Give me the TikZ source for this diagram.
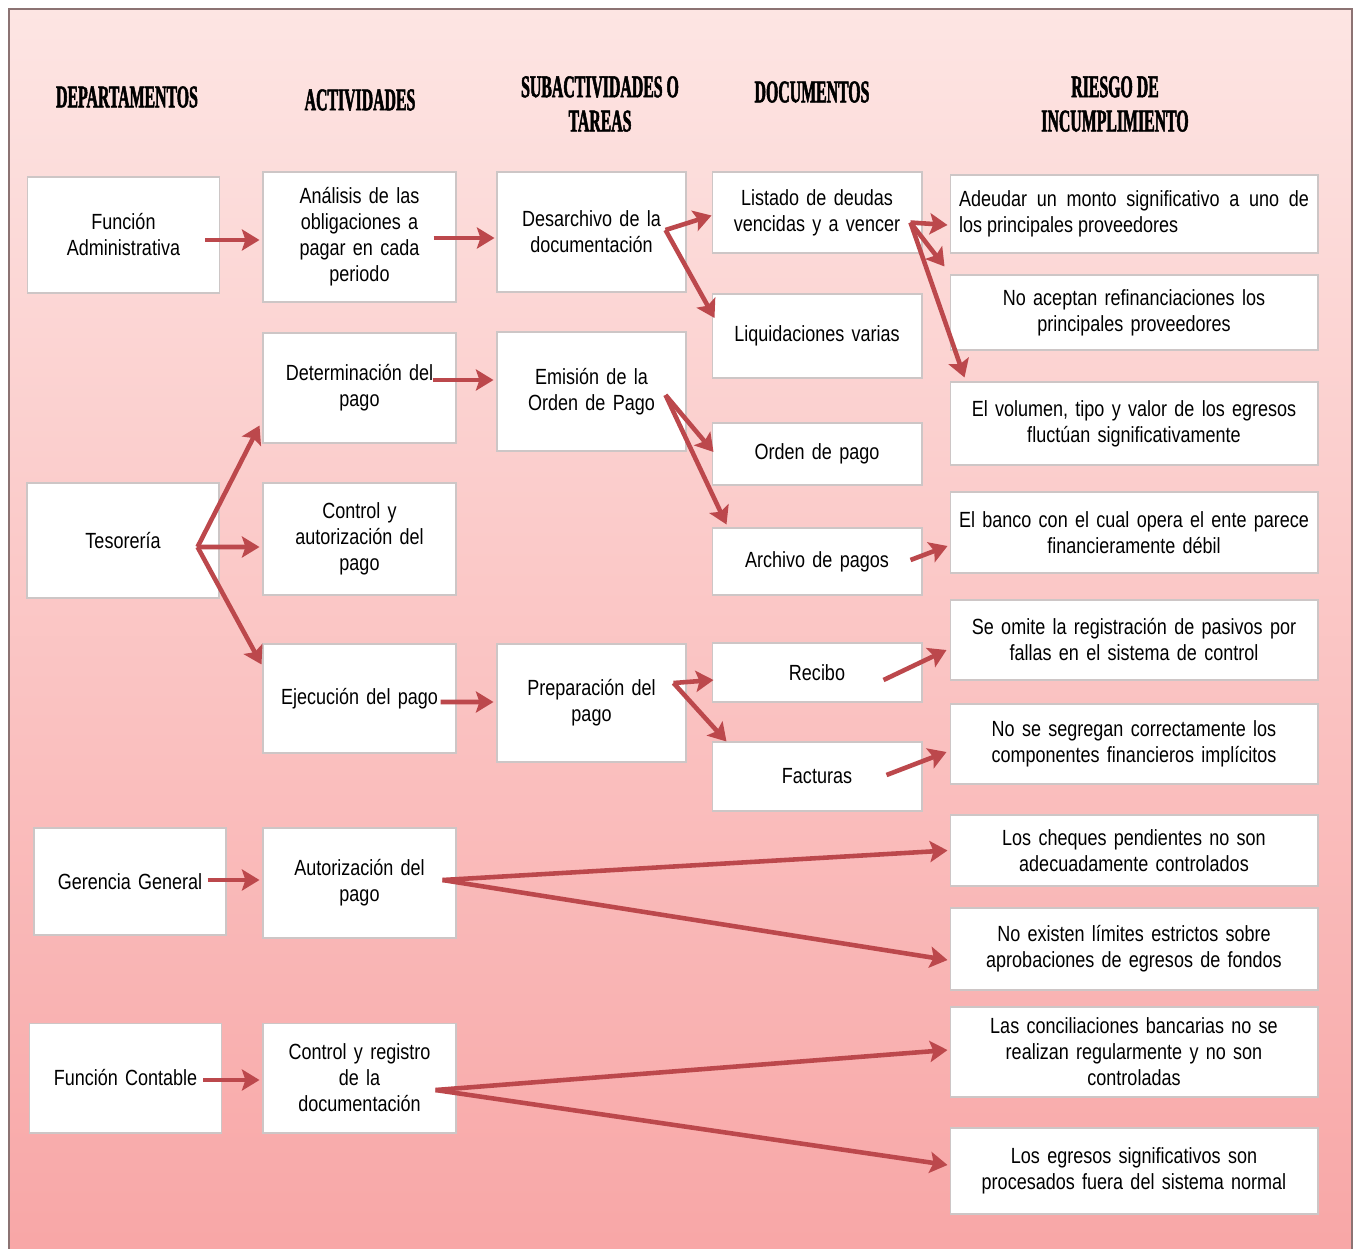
\documentclass[tikz,border=0pt]{standalone}
\usepackage{fontspec}
\setmainfont[FakeStretch=0.82]{Liberation Sans}
\newfontfamily\cabecera[FakeStretch=0.5,FakeBold=1.6]{Liberation Serif}
\usetikzlibrary{arrows.meta,calc}
\pgfdeclarelayer{fondo}
\pgfdeclarelayer{nodelayer}
\pgfdeclarelayer{edgelayer}
\pgfsetlayers{fondo,nodelayer,edgelayer,main}
\definecolor{flechacol}{RGB}{188,72,76}
\definecolor{bordecaja}{RGB}{205,198,198}
\definecolor{rosaclaro}{RGB}{253,229,227}
\definecolor{rosaoscuro}{RGB}{248,166,166}
\definecolor{marco}{RGB}{140,115,115}
\tikzset{font=\fontsize{12.5}{14.8}\selectfont}
\tikzstyle{caja}=[draw=bordecaja,line width=0.6pt,fill=white,align=center,inner sep=3pt]
\tikzstyle{dep}=[caja,minimum width=3.84cm,text width=3.6cm]
\tikzstyle{act}=[caja,minimum width=3.86cm,text width=3.6cm]
\tikzstyle{sub}=[caja,minimum width=3.78cm,text width=3.5cm]
\tikzstyle{doc}=[caja,minimum width=4.2cm,text width=3.9cm]
\tikzstyle{riesgo}=[caja,minimum width=7.36cm,text width=7.0cm]
\tikzstyle{titulo}=[font=\cabecera\bfseries\fontsize{18}{19.5}\selectfont,align=center,inner sep=0pt]
\tikzstyle{flecha}=[draw=flechacol,line width=2.6pt,-{Stealth[length=10pt,width=12pt,inset=2pt]}]

\begin{document}
\begin{tikzpicture}[x=0.02cm,y=-0.02cm]
	\useasboundingbox (0,0) rectangle (1359,1248);
	\begin{pgfonlayer}{fondo}
		\shade [top color=rosaclaro,bottom color=rosaoscuro] (9,9) rectangle (1352,1262);
		\draw [marco,line width=1pt] (9,9) rectangle (1352,1262);
	\end{pgfonlayer}
	\begin{pgfonlayer}{nodelayer}
		% titulos
		\node [style=titulo] (29) at (127,97) {DEPARTAMENTOS};
		\node [style=titulo] (30) at (360,100) {ACTIVIDADES};
		\node [style=titulo] (31) at (600,104) {SUBACTIVIDADES O\\TAREAS};
		\node [style=titulo] (32) at (812,92) {DOCUMENTOS};
		\node [style=titulo] (33) at (1115,104) {RIESGO DE\\INCUMPLIMIENTO};
		% departamentos
		\node [style=dep, minimum height=2.32cm] (0) at (123.5,235) {Función\\Administrativa};
		\node [style=dep, minimum height=2.3cm] (1) at (123,540.5) {Tesorería};
		\node [style=dep, minimum height=2.14cm] (2) at (130,881.5) {Gerencia General};
		\node [style=dep, minimum height=2.2cm] (3) at (125.5,1078) {Función Contable};
		% actividades
		\node [style=act, minimum height=2.6cm] (4) at (359.5,237) {Análisis de las\\obligaciones a\\pagar en cada\\periodo};
		\node [style=act, minimum height=2.2cm] (5) at (359.5,388) {Determinación del\\pago};
		\node [style=act, minimum height=2.24cm] (6) at (359.5,539) {Control y\\autorización del\\pago};
		\node [style=act, minimum height=2.18cm] (7) at (359.5,698.5) {Ejecución del pago};
		\node [style=act, minimum height=2.2cm] (8) at (359.5,883) {Autorización del\\pago};
		\node [style=act, minimum height=2.2cm] (9) at (359.5,1078) {Control y registro\\de la\\documentación};
		% subactividades
		\node [style=sub, minimum height=2.4cm] (10) at (591.5,232) {Desarchivo de la\\documentación};
		\node [style=sub, minimum height=2.38cm] (11) at (591.5,391.5) {Emisión de la\\Orden de Pago};
		\node [style=sub, minimum height=2.36cm] (12) at (591.5,703) {Preparación del\\pago};
		% documentos
		\node [style=doc, minimum height=1.62cm] (13) at (817,212.5) {Listado de deudas\\vencidas y a vencer};
		\node [style=doc, minimum height=1.68cm] (14) at (817,336) {Liquidaciones varias};
		\node [style=doc, minimum height=1.24cm] (15) at (817,454) {Orden de pago};
		\node [style=doc, minimum height=1.34cm] (16) at (817,561.5) {Archivo de pagos};
		\node [style=doc, minimum height=1.18cm] (17) at (817,672.5) {Recibo};
		\node [style=doc, minimum height=1.38cm] (18) at (817,776.5) {Facturas};
		% riesgos
		\node [style=riesgo, minimum height=1.56cm, align=justify] (19) at (1134,214) {Adeudar un monto significativo a uno de\linebreak los principales proveedores};
		\node [style=riesgo, minimum height=1.5cm] (20) at (1134,312.5) {No aceptan refinanciaciones los\\principales proveedores};
		\node [style=riesgo, minimum height=1.66cm] (21) at (1134,423.5) {El volumen, tipo y valor de los egresos\\fluctúan significativamente};
		\node [style=riesgo, minimum height=1.62cm] (22) at (1134,532.5) {El banco con el cual opera el ente parece\\financieramente débil};
		\node [style=riesgo, minimum height=1.6cm] (23) at (1134,640) {Se omite la registración de pasivos por\\fallas en el sistema de control};
		\node [style=riesgo, minimum height=1.6cm] (24) at (1134,744) {No se segregan correctamente los\\componentes financieros implícitos};
		\node [style=riesgo, minimum height=1.42cm] (25) at (1134,850.5) {Los cheques pendientes no son\\adecuadamente controlados};
		\node [style=riesgo, minimum height=1.64cm] (26) at (1134,949) {No existen límites estrictos sobre\\aprobaciones de egresos de fondos};
		\node [style=riesgo, minimum height=1.8cm] (27) at (1134,1052) {Las conciliaciones bancarias no se\\realizan regularmente y no son\\controladas};
		\node [style=riesgo, minimum height=1.72cm] (28) at (1134,1171) {Los egresos significativos son\\procesados fuera del sistema normal};
	\end{pgfonlayer}
	\begin{pgfonlayer}{edgelayer}
		\draw [style=flecha] ($(0.east)+(-15,5)$) to ($(4.west)+(-3,3)$);
		\draw [style=flecha] ($(4.east)+(-23,1)$) to ($(10.west)+(-2,6)$);
		\draw [style=flecha] ($(10.east)+(-21,-2)$) to ($(13.west)+(0,3)$);
		\draw [style=flecha] ($(10.east)+(-21,-2)$) to ($(14.west)+(3,-18)$);
		\draw [style=flecha] ($(13.east)+(-12,10)$) to ($(19.west)+(-2,11)$);
		\draw [style=flecha] ($(13.east)+(-12,10)$) to ($(20.north west)+(-5,-8)$);
		\draw [style=flecha] ($(13.east)+(-12,10)$) to ($(21.north west)+(15,-4)$);
		\draw [style=flecha] ($(5.east)+(-24,-8)$) to ($(11.west)+(-3,-11.5)$);
		\draw [style=flecha] ($(11.east)+(-21,3.5)$) to ($(15.west)+(2,-2)$);
		\draw [style=flecha] ($(11.east)+(-21,3.5)$) to ($(16.north west)+(15,-3)$);
		\draw [style=flecha] ($(16.east)+(-12,-1.5)$) to ($(22.west)+(-2,13.5)$);
		\draw [style=flecha] ($(1.east)+(-22,6.5)$) to ($(5.south west)+(-3,-18)$);
		\draw [style=flecha] ($(1.east)+(-22,6.5)$) to ($(6.west)+(-3,8)$);
		\draw [style=flecha] ($(1.east)+(-22,6.5)$) to ($(7.north west)+(-1,21)$);
		\draw [style=flecha] ($(7.east)+(-16,3.5)$) to ($(12.west)+(-3,-1)$);
		\draw [style=flecha] ($(12.east)+(-13,-20)$) to ($(17.west)+(2,7.5)$);
		\draw [style=flecha] ($(12.east)+(-13,-20)$) to ($(18.north west)+(15,0)$);
		\draw [style=flecha] ($(17.east)+(-39,7.5)$) to ($(23.west)+(-3,10)$);
		\draw [style=flecha] ($(18.east)+(-36,-1.5)$) to ($(24.west)+(-3,8)$);
		\draw [style=flecha] ($(2.east)+(-19,-1.5)$) to ($(8.west)+(-3,-3)$);
		\draw [style=flecha] ($(8.east)+(-14,-3)$) to ($(25.west)+(-2,0)$);
		\draw [style=flecha] ($(8.east)+(-14,-3)$) to ($(26.west)+(-2,11)$);
		\draw [style=flecha] ($(3.east)+(-19,2)$) to ($(9.west)+(-3,2)$);
		\draw [style=flecha] ($(9.east)+(-21,12)$) to ($(27.west)+(-2,-2)$);
		\draw [style=flecha] ($(9.east)+(-21,12)$) to ($(28.west)+(-2,-6)$);
	\end{pgfonlayer}
\end{tikzpicture}
\end{document}
